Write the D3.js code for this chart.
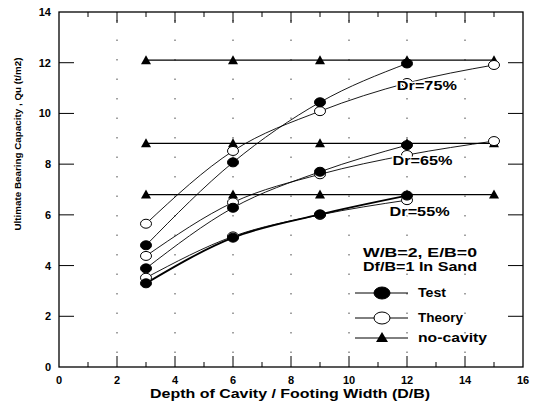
<!DOCTYPE html>
<html>
<head>
<meta charset="utf-8">
<script src="https://cdn.jsdelivr.net/npm/d3@7"></script>
<style>
  body { margin: 0; background: #fff; }
  text { font-family: Arial, "Liberation Sans", sans-serif; font-weight: bold; fill: #000; }
</style>
</head>
<body>
<svg id="chart" width="540" height="405"></svg>
<script>
// depth ratios
const xTest = [3, 6, 9, 12];
const xTheory = [3, 6, 9, 12, 15];
const xNoCav = [3, 6, 9, 12, 15];

// test values (filled circles)
const test75 = [4.8, 8.07, 10.44, 11.97];
const test65 = [3.89, 6.28, 7.7, 8.75];
const test55 = [3.3, 5.1, 6.02, 6.76];

// theory values (open circles)
const theory75 = [5.65, 8.52, 10.09, 11.2, 11.91];
const theory65 = [4.38, 6.49, 7.6, 8.36, 8.91];
const theory55 = [3.52, 5.15, 6.0, 6.58];

// no-cavity values (triangles)
const nocav75 = [12.1, 12.1, 12.1, 12.1, 12.1];
const nocav65 = [8.82, 8.82, 8.82, 8.82, 8.82];
const nocav55 = [6.8, 6.8, 6.8, 6.8, 6.8];

const xTicks = [0, 2, 4, 6, 8, 10, 12, 14, 16];
const yTicks = [0, 2, 4, 6, 8, 10, 12, 14];
const densityLabels = ['Dr=75%', 'Dr=65%', 'Dr=55%'];
const labelPos = [[11.65, 10.92], [11.5, 7.97], [11.4, 5.96]];

const svg = d3.select('#chart');
const pLeft = 59, pRight = 523, pTop = 12, pBottom = 367;

const x = d3.scaleLinear().domain([0, 16]).range([pLeft, pRight]);
const y = d3.scaleLinear().domain([0, 14]).range([pBottom, pTop]);

// dotted vertical grid
svg.append('g')
    .selectAll('line')
    .data(xTicks.filter(d => d > 0 && d < 16))
    .enter()
    .append('line')
    .attr('x1', d => x(d)).attr('x2', d => x(d))
    .attr('y1', pTop + 8).attr('y2', pBottom - 6)
    .attr('stroke', '#444')
    .attr('stroke-width', 1)
    .attr('stroke-dasharray', '1.5,18');

// frame
svg.append('rect')
    .attr('x', pLeft).attr('y', pTop)
    .attr('width', pRight - pLeft).attr('height', pBottom - pTop)
    .attr('fill', 'none').attr('stroke', '#000').attr('stroke-width', 1.3);

// inward ticks on all sides
const minorX = d3.range(1, 16, 2);
const tickG = svg.append('g').attr('stroke', '#000').attr('stroke-width', 1);
xTicks.slice(1, -1).forEach(d => {
    tickG.append('line').attr('x1', x(d)).attr('x2', x(d)).attr('y1', pBottom).attr('y2', pBottom - 11);
    tickG.append('line').attr('x1', x(d)).attr('x2', x(d)).attr('y1', pTop).attr('y2', pTop + 11);
});
minorX.forEach(d => {
    tickG.append('line').attr('x1', x(d)).attr('x2', x(d)).attr('y1', pBottom).attr('y2', pBottom - 5);
    tickG.append('line').attr('x1', x(d)).attr('x2', x(d)).attr('y1', pTop).attr('y2', pTop + 5);
});
yTicks.slice(1, -1).forEach(d => {
    tickG.append('line').attr('x1', pLeft).attr('x2', pLeft + 15).attr('y1', y(d)).attr('y2', y(d));
    tickG.append('line').attr('x1', pRight).attr('x2', pRight - 15).attr('y1', y(d)).attr('y2', y(d));
});

// tick labels
svg.append('g')
    .selectAll('text')
    .data(xTicks)
    .enter()
    .append('text')
    .attr('x', d => x(d)).attr('y', 384)
    .attr('text-anchor', 'middle')
    .attr('font-size', 11)
    .text(d => d);

svg.append('g')
    .selectAll('text')
    .data(yTicks)
    .enter()
    .append('text')
    .attr('x', 51).attr('y', d => y(d) + 4)
    .attr('text-anchor', 'end')
    .attr('font-size', 11)
    .text(d => d);

// axis titles
svg.append('text')
    .attr('x', 290).attr('y', 398)
    .attr('text-anchor', 'middle')
    .attr('font-size', 13)
    .attr('textLength', 280)
    .attr('lengthAdjust', 'spacingAndGlyphs')
    .text('Depth of Cavity / Footing Width  (D/B)');

svg.append('text')
    .attr('transform', 'translate(21,144) rotate(-90)')
    .attr('text-anchor', 'middle')
    .attr('font-size', 9)
    .attr('textLength', 173)
    .attr('lengthAdjust', 'spacingAndGlyphs')
    .text('Ultimate Bearing Capacity , Qu (t/m2)');

const line = d3.line()
    .x(d => x(d[0]))
    .y(d => y(d[1]))
    .curve(d3.curveMonotoneX);

function series(xs, ys, kind, width) {
    const pts = xs.slice(0, ys.length).map((v, i) => [v, ys[i]]);
    svg.append('path')
        .datum(pts)
        .attr('d', kind === 'tri' ? d3.line().x(d => x(d[0])).y(d => y(d[1]))(pts) : line)
        .attr('fill', 'none')
        .attr('stroke', '#000')
        .attr('stroke-width', width);
    return pts;
}

function markers(pts, kind) {
    const g = svg.append('g');
    if (kind === 'tri') {
        g.selectAll('path').data(pts).enter().append('path')
            .attr('d', d => `M${x(d[0]) - 5},${y(d[1]) + 4}L${x(d[0]) + 5},${y(d[1]) + 4}L${x(d[0])},${y(d[1]) - 5}Z`)
            .attr('fill', '#000');
    } else {
        g.selectAll('ellipse').data(pts).enter().append('ellipse')
            .attr('cx', d => x(d[0])).attr('cy', d => y(d[1]))
            .attr('rx', 5.5).attr('ry', 4.5)
            .attr('fill', kind === 'test' ? '#000' : '#fff')
            .attr('stroke', '#000').attr('stroke-width', 1);
    }
}

const groups = [
    [xNoCav, nocav75, 'tri', 1.3], [xNoCav, nocav65, 'tri', 1.3], [xNoCav, nocav55, 'tri', 1.3],
    [xTheory, theory75, 'theory', 0.9], [xTheory, theory65, 'theory', 0.9], [xTheory, theory55, 'theory', 0.9],
    [xTest, test75, 'test', 0.9], [xTest, test65, 'test', 0.9], [xTest, test55, 'test', 1.8]
];
const allPts = groups.map(g => [series(g[0], g[1], g[2], g[3]), g[2]]);
allPts.forEach(p => markers(p[0], p[1]));

// density labels, drawn over the curves with a white halo
svg.append('g')
    .selectAll('text')
    .data(densityLabels)
    .enter()
    .append('text')
    .attr('x', (d, i) => x(labelPos[i][0]))
    .attr('y', (d, i) => y(labelPos[i][1]))
    .attr('font-size', 13)
    .attr('textLength', 60)
    .attr('lengthAdjust', 'spacingAndGlyphs')
    .attr('stroke', '#fff')
    .attr('stroke-width', 2.5)
    .attr('paint-order', 'stroke')
    .text(d => d);

// note + legend
svg.append('text').attr('x', 420).attr('y', 257).attr('text-anchor', 'middle')
    .attr('font-size', 12).attr('textLength', 114).attr('lengthAdjust', 'spacingAndGlyphs')
    .text('W/B=2, E/B=0');
svg.append('text').attr('x', 420).attr('y', 271).attr('text-anchor', 'middle')
    .attr('font-size', 12).attr('textLength', 114).attr('lengthAdjust', 'spacingAndGlyphs')
    .text('Df/B=1 In Sand');

const legendItems = ['Test', 'Theory', 'no-cavity'];
const legendWidths = [28, 45, 69];
const legendY = [293, 318, 338];
legendItems.forEach((name, i) => {
    const ly = legendY[i];
    svg.append('line').attr('x1', 355).attr('x2', 408).attr('y1', ly).attr('y2', ly)
        .attr('stroke', '#000').attr('stroke-width', 1);
    if (i === 2) {
        svg.append('path').attr('d', `M${376},${ly + 4}L${388},${ly + 4}L${382},${ly - 6}Z`).attr('fill', '#000');
    } else {
        svg.append('ellipse').attr('cx', 382).attr('cy', ly).attr('rx', 8).attr('ry', 6)
            .attr('fill', i === 0 ? '#000' : '#fff').attr('stroke', '#000');
    }
    svg.append('text').attr('x', 418).attr('y', ly + 4).attr('font-size', 12)
        .attr('textLength', legendWidths[i]).attr('lengthAdjust', 'spacingAndGlyphs').text(name);
});
</script>
</body>
</html>
